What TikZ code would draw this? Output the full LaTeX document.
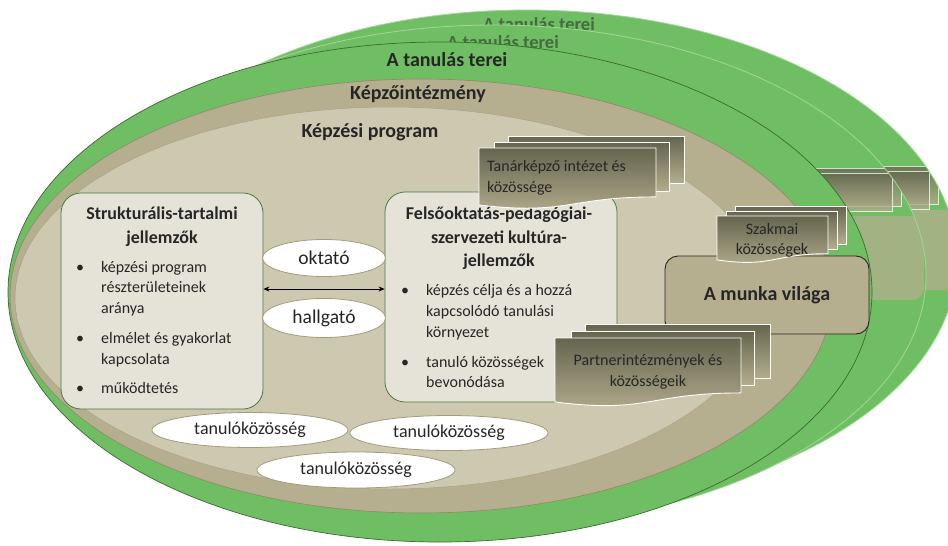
\documentclass[tikz,border=0pt]{standalone}
\usepackage{fontspec}
\setmainfont{Carlito}
\usetikzlibrary{shapes.geometric,arrows.meta}
\definecolor{grn}{HTML}{70BE63}
\definecolor{grnline}{HTML}{3B6A31}
\definecolor{grnlight}{HTML}{A3D698}
\definecolor{taupe}{HTML}{B5AE8F}
\definecolor{taupeline}{HTML}{8F8866}
\definecolor{lightt}{HTML}{CDC8B0}
\definecolor{lightline}{HTML}{A9A385}
\definecolor{boxfill}{HTML}{E5E3D7}
\definecolor{boxline}{HTML}{4B7A40}
\definecolor{txt}{HTML}{262626}
\definecolor{cardtop}{HTML}{65654F}
\definecolor{cardbot}{HTML}{B3AD8D}
\definecolor{ovalline}{HTML}{A39C78}
\newcommand\cardrect[4]{\path[cardbox] (#1,#2) rectangle (#3,#4);}
\newcommand\cardwave[4]{\path[cardbox] (#1,#2) -- (#3,#2) -- (#3,{#2+0.802*#4}) .. controls ({(#1+#3)/2},{#2+0.802*#4}) and ({(#1+#3)/2},{#2+1.107*#4}) .. (#1,{#2+0.934*#4}) -- cycle;}
\begin{document}
\begin{tikzpicture}[x=1pt,y=-1pt,
  body/.style={font=\fontsize{16}{20}\selectfont, text=txt, inner sep=0pt},
  btitle/.style={font=\fontsize{18}{22}\selectfont\bfseries, text=txt, inner sep=0pt},
  ltitle/.style={font=\fontsize{20}{24}\selectfont\bfseries, text=txt, inner sep=0pt},
  cardbox/.style={draw=white, line width=0.9pt, top color=cardtop, bottom color=cardbot},
  infobox/.style={draw=boxline, line width=0.8pt, fill=boxfill, rounded corners=20pt, inner sep=0pt},
  oval/.style={ellipse, draw=ovalline, line width=0.8pt, fill=white, inner sep=0pt, text=txt},
  ghostbox/.style={fill=taupe, rounded corners=12pt},
  ghosttext/.style={font=\fontsize{18.5}{22}\selectfont\bfseries, inner sep=0pt, text=txt, text opacity=0.55, anchor=base},
]
\useasboundingbox (0,0) rectangle (948,546);
\fill[white] (0,0) rectangle (948,546);

% ---- back layer
\fill[grn] (527,260) ellipse [x radius=430, y radius=250];
\begin{scope}
  \clip (527,260) ellipse [x radius=430, y radius=250];
  \begin{scope}[shift={(92,-40)}, opacity=0.75]
    \cardrect{735}{206}{846}{244}
    \cardrect{726}{211}{837}{249}
    \path[ghostbox] (665,250) rectangle (869,330);
  \end{scope}
\end{scope}
\draw[grnlight, line width=0.8pt] (527,260) ellipse [x radius=430, y radius=250];
\node[ghosttext] (gback) at (539,30) {A tanulás terei};

% ---- middle layer
\fill[grn] (494,275) ellipse [x radius=432, y radius=250];
\begin{scope}
  \clip (494,275) ellipse [x radius=432, y radius=250];
  \begin{scope}[shift={(55,-38)}, opacity=0.75]
    \cardrect{735}{206}{846}{244}
    \cardrect{726}{211}{837}{249}
    \path[ghostbox] (665,254) rectangle (869,338);
  \end{scope}
\end{scope}
\draw[grnlight, line width=0.8pt] (494,275) ellipse [x radius=432, y radius=250];
\node[ghosttext] (gmid) at (503,48) {A tanulás terei};

% ---- front layer
\filldraw[fill=grn, draw=grnline, line width=0.7pt] (440,292) ellipse [x radius=432, y radius=250];
\filldraw[fill=taupe, draw=taupeline, line width=0.6pt] (421,296) ellipse [x radius=411, y radius=217];
\filldraw[fill=lightt, draw=lightline, line width=0.5pt] (390,298) ellipse [x radius=375, y radius=191];

\node[ltitle, anchor=base] (t1) at (447,66) {A tanulás terei};
\node[ltitle, anchor=base] (t2) at (418,99) {Képzőintézmény};
\node[ltitle, anchor=base] (t3) at (370,137) {Képzési program};

% ---- left box
\node[infobox, minimum width=202pt, minimum height=216pt] (lbox) at (162,301) {};
\node[btitle, anchor=base] (lt1) at (162,219) {Strukturális-tartalmi};
\node[btitle, anchor=base] (lt2) at (162,243) {jellemzők};
\node[body, anchor=base] (lb1) at (80,272) {•};
\node[body, anchor=base west] (l1) at (101,272) {képzési program};
\node[body, anchor=base west] (l2) at (101,292.5) {részterületeinek};
\node[body, anchor=base west] (l3) at (101,313) {aránya};
\node[body, anchor=base] (lb2) at (80,343) {•};
\node[body, anchor=base west] (l4) at (101,343) {elmélet és gyakorlat};
\node[body, anchor=base west] (l5) at (101,364) {kapcsolata};
\node[body, anchor=base] (lb3) at (80,393) {•};
\node[body, anchor=base west] (l6) at (101,393) {működtetés};

% ---- middle box
\node[infobox, minimum width=232pt, minimum height=210pt] (mbox) at (501,297) {};
\node[btitle, anchor=base] (mt1) at (499,219) {Felsőoktatás-pedagógiai-};
\node[btitle, anchor=base] (mt2) at (499,243) {szervezeti kultúra-};
\node[btitle, anchor=base] (mt3) at (499,266) {jellemzők};
\node[body, anchor=base] (mb1) at (405,295) {•};
\node[body, anchor=base west] (m1) at (426,295) {képzés célja és a hozzá};
\node[body, anchor=base west] (m2) at (426,316) {kapcsolódó tanulási};
\node[body, anchor=base west] (m3) at (426,337) {környezet};
\node[body, anchor=base] (mb2) at (405,367) {•};
\node[body, anchor=base west] (m4) at (426,367) {tanuló közösségek};
\node[body, anchor=base west] (m5) at (426,387) {bevonódása};

% ---- oktató / hallgató
\node[oval, minimum width=123pt, minimum height=37pt, font=\fontsize{19.5}{23}\selectfont] (okt) at (324,258) {oktató};
\node[oval, minimum width=123pt, minimum height=39pt, font=\fontsize{19.5}{23}\selectfont] (hal) at (324,318) {hallgató};
\coordinate (arry) at (0,289);
\draw[line width=0.9pt, {Stealth[length=6pt,width=5pt]}-{Stealth[length=6pt,width=5pt]}] (lbox.east |- arry) -- (mbox.west |- arry);

% ---- tanulóközösség
\node[oval, minimum width=196pt, minimum height=35pt, font=\fontsize{18}{22}\selectfont] (tk1) at (250,430) {tanulóközösség};
\node[oval, minimum width=198pt, minimum height=35pt, font=\fontsize{18}{22}\selectfont] (tk2) at (449,433) {tanulóközösség};
\node[oval, minimum width=198pt, minimum height=36pt, font=\fontsize{18}{22}\selectfont] (tk3) at (356,470) {tanulóközösség};

% ---- Tanárképző stack
\cardrect{508}{136}{684}{183}
\cardrect{494}{142}{669}{191}
\cardwave{479}{148}{656}{61}
\node[body, anchor=base west] (c1) at (487,171) {Tanárképző intézet és};
\node[body, anchor=base west] (c2) at (487,192) {közössége};

% ---- A munka világa
\node[draw=black!85, line width=0.9pt, fill=taupe, rounded corners=13pt, minimum width=204pt, minimum height=78pt, font=\fontsize{20}{24}\selectfont\bfseries, text=txt] (munka) at (767,295) {A munka világa};

% ---- Szakmai stack
\cardrect{735}{206}{846}{244}
\cardrect{726}{211}{837}{249}
\cardwave{717}{216}{828}{47}
\node[body, anchor=base] (s1) at (772,234) {Szakmai};
\node[body, anchor=base] (s2) at (772,254) {közösségek};

% ---- Partner stack
\cardrect{585}{324}{770}{378}
\cardrect{571}{331}{754}{385}
\cardwave{555}{338}{741}{68.5}
\node[body, anchor=base] (p1) at (648,365) {Partnerintézmények és};
\node[body, anchor=base] (p2) at (648,386) {közösségeik};
\end{tikzpicture}
\end{document}
